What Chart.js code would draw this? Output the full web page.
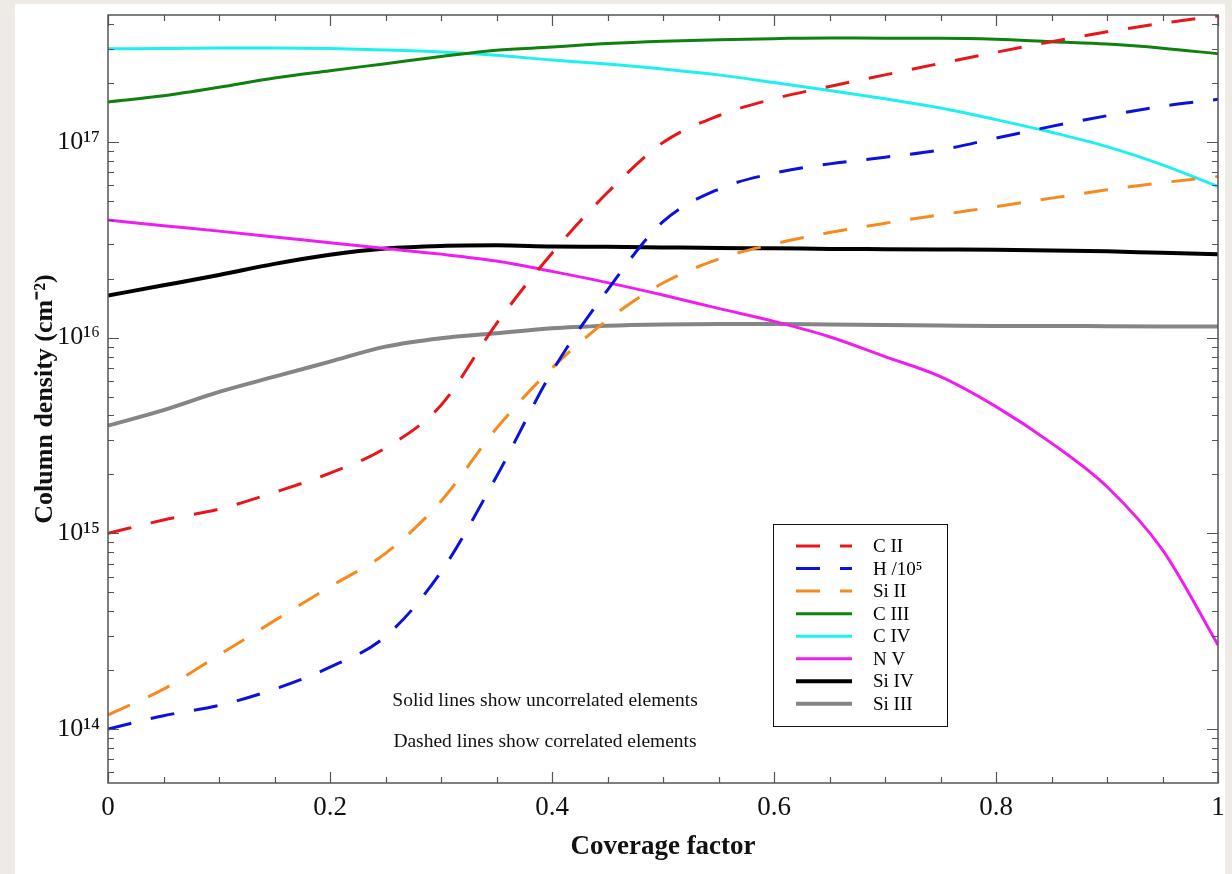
<!DOCTYPE html>
<html>
<head>
<meta charset="utf-8">
<script src="https://cdn.jsdelivr.net/npm/chart.js@4.4.1/dist/chart.umd.min.js"></script>
<style>
  html, body { margin: 0; padding: 0; background: #eeebe6; }
  #wrap { width: 1232px; height: 874px; }
</style>
</head>
<body>
<div id="wrap"><canvas id="c" width="1232" height="874"></canvas></div>
<script>
// ---- data ----
const coverage = [0, 0.05, 0.1, 0.15, 0.2, 0.25, 0.3, 0.35, 0.4, 0.45, 0.5, 0.55, 0.6, 0.65, 0.7, 0.75, 0.8, 0.85, 0.9, 0.95, 1.0];
const cII   = [1.00e15, 1.17e15, 1.33e15, 1.62e15, 2.03e15, 2.73e15, 4.51e15, 1.18e16, 2.70e16, 5.51e16, 9.92e16, 1.36e17, 1.66e17, 1.92e17, 2.20e17, 2.52e17, 2.87e17, 3.25e17, 3.65e17, 4.04e17, 4.40e17];
const hI    = [1.00e14, 1.17e14, 1.32e14, 1.60e14, 2.07e14, 2.97e14, 6.35e14, 1.95e15, 6.70e15, 1.75e16, 3.91e16, 5.73e16, 6.92e16, 7.72e16, 8.35e16, 9.10e16, 1.045e17, 1.20e17, 1.36e17, 1.52e17, 1.65e17];
const siII  = [1.18e14, 1.60e14, 2.39e14, 3.58e14, 5.34e14, 7.90e14, 1.46e15, 3.44e15, 6.98e15, 1.23e16, 1.90e16, 2.52e16, 3.01e16, 3.44e16, 3.84e16, 4.24e16, 4.67e16, 5.16e16, 5.69e16, 6.19e16, 6.65e16];
const cIII  = [1.60e17, 1.72e17, 1.90e17, 2.12e17, 2.31e17, 2.51e17, 2.73e17, 2.94e17, 3.05e17, 3.18e17, 3.27e17, 3.33e17, 3.37e17, 3.40e17, 3.39e17, 3.39e17, 3.35e17, 3.25e17, 3.16e17, 3.01e17, 2.82e17];
const cIV   = [2.99e17, 3.00e17, 3.02e17, 3.02e17, 3.00e17, 2.95e17, 2.88e17, 2.77e17, 2.62e17, 2.50e17, 2.36e17, 2.20e17, 2.01e17, 1.83e17, 1.66e17, 1.49e17, 1.30e17, 1.12e17, 9.46e16, 7.63e16, 5.91e16];
const nV    = [3.99e16, 3.73e16, 3.50e16, 3.27e16, 3.05e16, 2.85e16, 2.67e16, 2.46e16, 2.18e16, 1.91e16, 1.65e16, 1.41e16, 1.21e16, 1.01e16, 8.0e15, 6.32e15, 4.44e15, 2.89e15, 1.73e15, 8.23e14, 2.69e14];
const siIV  = [1.64e16, 1.85e16, 2.09e16, 2.38e16, 2.65e16, 2.85e16, 2.94e16, 2.96e16, 2.92e16, 2.91e16, 2.89e16, 2.87e16, 2.86e16, 2.84e16, 2.83e16, 2.82e16, 2.81e16, 2.79e16, 2.76e16, 2.71e16, 2.67e16];
const siIII = [3.55e15, 4.26e15, 5.28e15, 6.32e15, 7.54e15, 8.99e15, 9.93e15, 1.053e16, 1.117e16, 1.151e16, 1.168e16, 1.175e16, 1.175e16, 1.168e16, 1.161e16, 1.154e16, 1.147e16, 1.147e16, 1.143e16, 1.140e16, 1.138e16];

const seriesLabels = ['C II', 'H /10\u2075', 'Si II', 'C III', 'C IV', 'N V', 'Si IV', 'Si III'];
const xTickLabels = ['0', '0.2', '0.4', '0.6', '0.8', '1'];
const yTickLabels = ['10\u00b9\u2074', '10\u00b9\u2075', '10\u00b9\u2076', '10\u00b9\u2077'];
const xTitle = 'Coverage factor';
const yTitle = 'Column density (cm\u207b\u00b2)';
const noteLines = ['Solid lines show uncorrelated elements', 'Dashed lines show correlated elements'];

const SERIF = '"Liberation Serif", "Times New Roman", serif';
const pts = arr => coverage.map((c, i) => ({ x: c, y: arr[i] }));

const styles = [
  { data: cII,   color: '#e8161b', dash: [24, 20], width: 3 },
  { data: hI,    color: '#0b12dc', dash: [24, 20], width: 3 },
  { data: siII,  color: '#f58a1f', dash: [24, 20], width: 3 },
  { data: cIII,  color: '#10800f', dash: [],       width: 3 },
  { data: cIV,   color: '#1ef0f0', dash: [],       width: 3 },
  { data: nV,    color: '#ee1fee', dash: [],       width: 3 },
  { data: siIV,  color: '#000000', dash: [],       width: 4 },
  { data: siIII, color: '#858585', dash: [],       width: 4 },
];

const datasets = styles.map((s, i) => ({
  label: seriesLabels[i],
  data: pts(s.data),
  borderColor: s.color,
  backgroundColor: s.color,
  borderDash: s.dash,
  borderWidth: s.width,
  pointRadius: 0,
  fill: false,
  cubicInterpolationMode: 'monotone',
}));

const bgPlugin = {
  id: 'bg',
  beforeDraw(chart) {
    const ctx = chart.ctx;
    ctx.save();
    ctx.fillStyle = '#eeebe6';
    ctx.fillRect(0, 0, chart.width, chart.height);
    ctx.fillStyle = '#ffffff';
    ctx.fillRect(15, 4, 1210, 870);
    ctx.restore();
  }
};

const frameTicks = {
  id: 'frameTicks',
  afterDraw(chart) {
    const ctx = chart.ctx;
    const a = chart.chartArea;
    const xs = chart.scales.x, ys = chart.scales.y;
    ctx.save();
    ctx.strokeStyle = '#555555';
    ctx.lineWidth = 1.5;
    ctx.strokeRect(a.left, a.top, a.right - a.left, a.bottom - a.top);
    ctx.lineWidth = 1.2;
    ctx.beginPath();
    for (let k = 0; k <= 20; k++) {
      const v = k * 0.05;
      const px = Math.round(xs.getPixelForValue(v)) + 0.5;
      const len = (k % 4 === 0) ? 11 : 6;
      ctx.moveTo(px, a.bottom); ctx.lineTo(px, a.bottom - len);
      ctx.moveTo(px, a.top); ctx.lineTo(px, a.top + len);
    }
    for (let e = 13; e <= 17; e++) {
      for (let m = 1; m <= 9; m++) {
        const v = m * Math.pow(10, e);
        if (v < ys.min || v > ys.max) continue;
        const py = Math.round(ys.getPixelForValue(v)) + 0.5;
        const len = (m === 1) ? 11 : 6;
        ctx.moveTo(a.left, py); ctx.lineTo(a.left + len, py);
        ctx.moveTo(a.right, py); ctx.lineTo(a.right - len, py);
      }
    }
    ctx.stroke();

    // legend
    const lx = 773, ly = 524, lw = 174, lh = 202;
    ctx.fillStyle = '#ffffff';
    ctx.fillRect(lx, ly, lw, lh);
    ctx.strokeStyle = '#111111';
    ctx.lineWidth = 1;
    ctx.strokeRect(lx + 0.5, ly + 0.5, lw, lh);
    ctx.font = '19px ' + SERIF;
    ctx.textBaseline = 'middle';
    ctx.textAlign = 'left';
    chart.data.datasets.forEach((ds, i) => {
      const y = 546 + i * 22.55;
      ctx.save();
      ctx.strokeStyle = ds.borderColor;
      ctx.lineWidth = ds.borderWidth;
      ctx.setLineDash(ds.borderDash || []);
      ctx.beginPath();
      ctx.moveTo(796, y); ctx.lineTo(852, y);
      ctx.stroke();
      ctx.restore();
      ctx.fillStyle = '#000000';
      ctx.fillText(ds.label, 873, y + 1);
    });

    // notes
    ctx.font = '19.5px ' + SERIF;
    ctx.textAlign = 'center';
    ctx.fillStyle = '#111111';
    ctx.fillText(noteLines[0], 545, 701);
    ctx.fillText(noteLines[1], 545, 742);
    ctx.restore();
  }
};

const decadeLabel = v => {
  const l = Math.log10(v);
  const r = Math.round(l);
  if (Math.abs(l - r) > 1e-6) return '';
  return yTickLabels[r - 14] || '';
};

new Chart(document.getElementById('c'), {
  type: 'line',
  data: { datasets },
  options: {
    responsive: false,
    animation: false,
    devicePixelRatio: 1,
    layout: { padding: { top: 15, right: 14, left: 0, bottom: 0 } },
    plugins: { legend: { display: false }, tooltip: { enabled: false } },
    scales: {
      x: {
        type: 'linear',
        min: 0, max: 1,
        grid: { display: false, drawTicks: false },
        border: { display: false },
        ticks: {
          stepSize: 0.2,
          padding: 9,
          color: '#111111',
          font: { family: SERIF, size: 27 },
          callback: (v) => { const k = Math.round(v / 0.2); return Math.abs(v - k * 0.2) < 1e-6 ? xTickLabels[k] : ''; },
          maxRotation: 0,
          autoSkip: false,
        },
        title: {
          display: true, text: xTitle, color: '#111111',
          font: { family: SERIF, size: 27, weight: 'bold' },
          padding: { top: 0, bottom: 11 },
        },
        afterFit(scale) { scale.height = 91; scale.paddingLeft = 0; scale.paddingRight = 0; },
      },
      y: {
        type: 'logarithmic',
        min: 5.3e13, max: 4.45e17,
        grid: { display: false, drawTicks: false },
        border: { display: false },
        ticks: {
          padding: 8,
          color: '#111111',
          font: { family: SERIF, size: 26 },
          autoSkip: false,
          callback: (v) => decadeLabel(v),
        },
        title: {
          display: true, text: yTitle, color: '#111111',
          font: { family: SERIF, size: 26, weight: 'bold' },
          padding: { top: 30, bottom: 0 },
        },
        afterFit(scale) { scale.width = 108; scale.paddingTop = 0; scale.paddingBottom = 0; },
      },
    },
  },
  plugins: [bgPlugin, frameTicks],
});
</script>
</body>
</html>
